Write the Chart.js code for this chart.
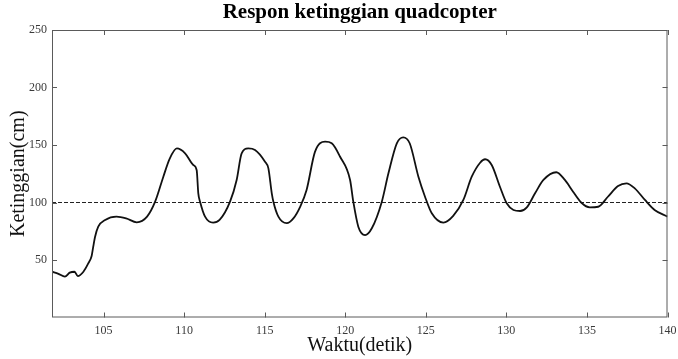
<!DOCTYPE html>
<html>
<head>
<meta charset="utf-8">
<script src="https://cdn.jsdelivr.net/npm/chart.js@4.4.0/dist/chart.umd.min.js"></script>
<style>
  html, body { margin: 0; padding: 0; background: #fff; }
  #wrap { width: 678px; height: 359px; }
</style>
</head>
<body>
<div id="wrap"><canvas id="grafik"></canvas></div>
<script>
// data
const waktu = [101.8, 102.2, 102.6, 102.9, 103.2, 103.4, 103.75, 104.05, 104.26, 104.36, 104.47, 104.67,
  105.1, 105.8, 106.4, 107.06, 107.7, 108.2, 108.7, 109.1, 109.55, 110.06, 110.57, 110.78, 110.88, 110.99,
  111.3, 111.8, 112.2, 112.85, 113.26, 113.57, 113.98, 114.4, 115.02, 115.23, 115.44, 115.54, 115.85,
  116.37, 116.78, 117.2, 117.6, 118.12, 118.75, 119.16, 119.68, 120.3, 120.5, 120.81, 121.23, 121.65,
  122.27, 122.68, 123.2, 123.6, 124.0, 124.54, 124.95, 125.37, 126.09, 126.7, 127.33, 127.85, 128.37,
  128.68, 129.09, 129.6, 130.02, 130.44, 130.85, 131.27, 131.78, 132.3, 133.1, 133.63, 134.14, 134.66,
  135.18, 135.7, 136.3, 136.93, 137.45, 137.97, 138.6, 139.2, 140.0];
const ketinggian = [39.8, 38, 35.5, 39, 39.8, 36, 39.8, 47, 53.5, 61.6, 70, 79,
  84.8, 87.7, 86.2, 82.8, 87.7, 100.7, 122, 138, 147, 142.8, 132.6, 128, 108, 100.7,
  87.7, 82.5, 84.8, 100.7, 119.6, 142.8, 147, 145.7, 135.5, 129.7, 108, 100.7, 87.7,
  82, 86.2, 96.3, 110.9, 144, 152.9, 151.5, 139.8, 119.6, 100.7, 79, 71.7, 77.6,
  100.7, 125.4, 151.5, 156.7, 151.5, 122.4, 105, 90.6, 82.5, 88.3, 102.2, 122.4, 134.6,
  137.6, 132.6, 113.7, 99.3, 93.5, 92.6, 95.8, 108, 119.6, 126.3, 119.6, 109.4, 99.8,
  95.8, 96.3, 105, 114.3, 116.7, 112.3, 102.2, 93.5, 87.7];
const setpointWaktu = [101.8, 140];
const setpointNilai = [100, 100];
const tickX = [105, 110, 115, 120, 125, 130, 135, 140];
const tickY = [50, 100, 150, 200, 250];
const judul = 'Respon ketinggian quadcopter';

const serif = "'Liberation Serif', 'DejaVu Serif', serif";

// tick ke dalam + kotak seperti MATLAB, judul di tengah area plot
const kotakPlugin = {
  id: 'kotak',
  afterDraw(chart) {
    const ctx = chart.ctx;
    const a = chart.chartArea;
    const sx = chart.scales.x, sy = chart.scales.y;
    const len = 5;
    ctx.save();
    ctx.strokeStyle = '#5a5a5a';
    ctx.lineWidth = 1;
    ctx.strokeRect(a.left + 0.5, a.top + 0.5, a.right - a.left - 1, a.bottom - a.top - 1);
    ctx.beginPath();
    tickX.forEach(v => {
      const px = Math.round(sx.getPixelForValue(v)) + 0.5;
      ctx.moveTo(px, a.bottom); ctx.lineTo(px, a.bottom - len);
      ctx.moveTo(px, a.top); ctx.lineTo(px, a.top + len);
    });
    tickY.forEach(v => {
      const py = Math.round(sy.getPixelForValue(v)) + 0.5;
      ctx.moveTo(a.left, py); ctx.lineTo(a.left + len, py);
      ctx.moveTo(a.right, py); ctx.lineTo(a.right - len, py);
    });
    ctx.stroke();

    ctx.fillStyle = '#000';
    ctx.font = 'bold 21px ' + serif;
    ctx.textAlign = 'center';
    ctx.textBaseline = 'middle';
    ctx.fillText(judul, (a.left + a.right) / 2, 13);
    ctx.restore();
  }
};

const ctx = document.getElementById('grafik').getContext('2d');
const grafik = new Chart(ctx, {
  type: 'line',
  data: {
    datasets: [
      {
        label: 'Ketinggian',
        data: waktu.map((t, i) => ({ x: t, y: ketinggian[i] })),
        borderColor: '#111',
        borderWidth: 1.8,
        pointRadius: 0,
        cubicInterpolationMode: 'monotone',
        fill: false
      },
      {
        label: 'Setpoint',
        data: setpointWaktu.map((t, i) => ({ x: t, y: setpointNilai[i] })),
        borderColor: '#222',
        borderWidth: 1,
        borderDash: [4, 2],
        pointRadius: 0,
        fill: false
      }
    ]
  },
  options: {
    responsive: true,
    maintainAspectRatio: false,
    animation: false,
    layout: { padding: { top: 30, right: 10.5, bottom: 0, left: 0 } },
    plugins: {
      legend: { display: false },
      tooltip: { enabled: false },
      title: { display: false }
    },
    scales: {
      x: {
        type: 'linear',
        min: 101.8,
        max: 140,
        afterBuildTicks: s => { s.ticks = tickX.map(v => ({ value: v })); },
        afterFit: s => { s.height = 41.5; s.paddingLeft = 0; s.paddingRight = 0; },
        grid: { display: false, drawTicks: false },
        border: { display: false },
        ticks: {
          padding: 6,
          color: '#3a3a3a',
          font: { family: serif, size: 12 },
          maxRotation: 0
        },
        title: {
          display: true,
          text: 'Waktu(detik)',
          color: '#111',
          font: { family: serif, size: 20 },
          padding: { top: 0, bottom: 1 }
        }
      },
      y: {
        min: 0,
        max: 250,
        afterBuildTicks: s => { s.ticks = tickY.map(v => ({ value: v })); },
        afterFit: s => { s.width = 52; s.paddingTop = 0; s.paddingBottom = 0; },
        grid: { display: false, drawTicks: false },
        border: { display: false },
        ticks: {
          padding: 5,
          color: '#3a3a3a',
          font: { family: serif, size: 12 }
        },
        title: {
          display: true,
          text: 'Ketinggian(cm)',
          color: '#111',
          font: { family: serif, size: 20 },
          padding: { top: 7, bottom: 0 }
        }
      }
    }
  },
  plugins: [kotakPlugin]
});
</script>
</body>
</html>
